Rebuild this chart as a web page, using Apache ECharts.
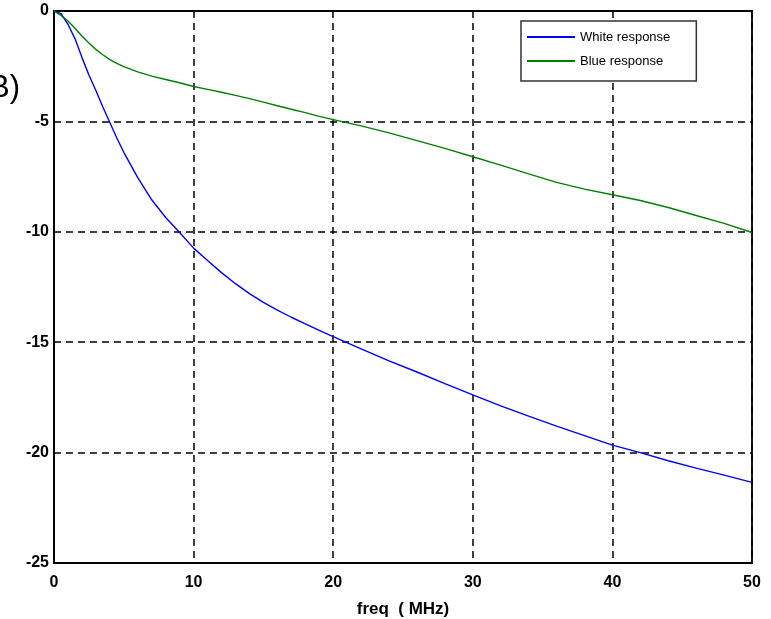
<!DOCTYPE html>
<html>
<head>
<meta charset="utf-8">
<style>
  html, body { margin: 0; padding: 0; background: #fff; }
  #chart { width: 771px; height: 619px; }
</style>
<script src="https://cdn.jsdelivr.net/npm/echarts@6/dist/echarts.min.js"></script>
</head>
<body>
<div id="chart"></div>
<script>
// Frequency sample points (MHz)
const freq = [0, 0.5, 1, 1.5, 2, 2.5, 3, 3.5, 4, 4.5, 5, 6, 7, 8, 9, 10, 11, 12, 13, 14, 15, 16, 17, 18, 19, 20,
              22, 24, 26, 28, 30, 32, 34, 36, 38, 40, 42, 44, 46, 48, 50];

// Response of the white channel (dB)
const whiteResponse = [0, -0.12, -0.6, -1.25, -2.1, -2.9, -3.6, -4.35, -5.05, -5.75, -6.4, -7.55, -8.55, -9.35, -10.03,
                       -10.74, -11.3, -11.85, -12.35, -12.8, -13.2, -13.55, -13.87, -14.17, -14.46, -14.75,
                       -15.3, -15.85, -16.35, -16.88, -17.39, -17.88, -18.35, -18.8, -19.23, -19.66, -20.0,
                       -20.37, -20.7, -21.02, -21.35];

// Response of the blue channel (dB)
const blueResponse = [0, -0.2, -0.45, -0.78, -1.13, -1.45, -1.74, -1.98, -2.2, -2.37, -2.52, -2.76, -2.95, -3.1, -3.25,
                      -3.42, -3.55, -3.68, -3.82, -3.97, -4.13, -4.29, -4.45, -4.6, -4.77, -4.92,
                      -5.2, -5.52, -5.87, -6.22, -6.6, -6.98, -7.38, -7.76, -8.07, -8.32, -8.58,
                      -8.9, -9.26, -9.62, -10.03];

const seriesNames = ['White response', 'Blue response'];
const xTicks = { min: 0, max: 50, step: 10 };
const yTicks = { min: -25, max: 0, step: 5 };
const xTitle = 'freq  ( MHz)';
const yUnit = '(dB)';

const pair = (xs, ys) => xs.map((x, i) => [x, ys[i]]);

const chart = echarts.init(document.getElementById('chart'));

const dashed = { show: true, lineStyle: { color: '#000', type: [7, 5], width: 1.5 } };
const tickFont = { fontFamily: 'Liberation Sans, Arial, sans-serif', fontWeight: 'bold', fontSize: 16, color: '#000' };

chart.setOption({
  animation: false,
  backgroundColor: '#fff',
  grid: {
    left: 54, top: 11, width: 698, height: 552,
    containLabel: false, outerBoundsMode: 'none',
    show: true, borderColor: '#000', borderWidth: 1.8, backgroundColor: 'transparent'
  },
  xAxis: {
    type: 'value',
    min: xTicks.min, max: xTicks.max, interval: xTicks.step,
    name: xTitle, nameLocation: 'middle', nameGap: 38,
    nameTextStyle: { fontFamily: 'Liberation Sans, Arial, sans-serif', fontWeight: 'bold', fontSize: 17, color: '#000' },
    axisLine: { show: true, lineStyle: { color: '#000', width: 1.8 } },
    axisTick: { show: false },
    splitLine: dashed,
    axisLabel: Object.assign({ margin: 12 }, tickFont)
  },
  yAxis: {
    type: 'value',
    min: yTicks.min, max: yTicks.max, interval: yTicks.step,
    axisLine: { show: true, lineStyle: { color: '#000', width: 1.8 } },
    axisTick: { show: false },
    splitLine: dashed,
    axisLabel: Object.assign({ margin: 5 }, tickFont)
  },
  legend: {
    orient: 'vertical',
    left: 521, top: 21,
    backgroundColor: '#fff',
    borderColor: '#333', borderWidth: 1.5, borderRadius: 0,
    padding: [8, 26, 12, 6],
    itemGap: 8,
    itemWidth: 48, itemHeight: 2,
    icon: 'rect',
    textStyle: { fontFamily: 'Liberation Sans, Arial, sans-serif', fontSize: 13, color: '#000', lineHeight: 16 },
    data: seriesNames
  },
  graphic: [{
    type: 'text', x: 20, y: 88,
    style: { text: yUnit, textAlign: 'right', textVerticalAlign: 'middle',
             font: '31px "Liberation Sans", Arial, sans-serif', fill: '#000' }
  }],
  series: [
    { name: seriesNames[0], type: 'line', data: pair(freq, whiteResponse), showSymbol: false, symbol: 'none',
      color: '#0000ff', lineStyle: { color: '#0000ff', width: 1.4 } },
    { name: seriesNames[1], type: 'line', data: pair(freq, blueResponse), showSymbol: false, symbol: 'none',
      color: '#008000', lineStyle: { color: '#008000', width: 1.4 } }
  ]
});
</script>
</body>
</html>
